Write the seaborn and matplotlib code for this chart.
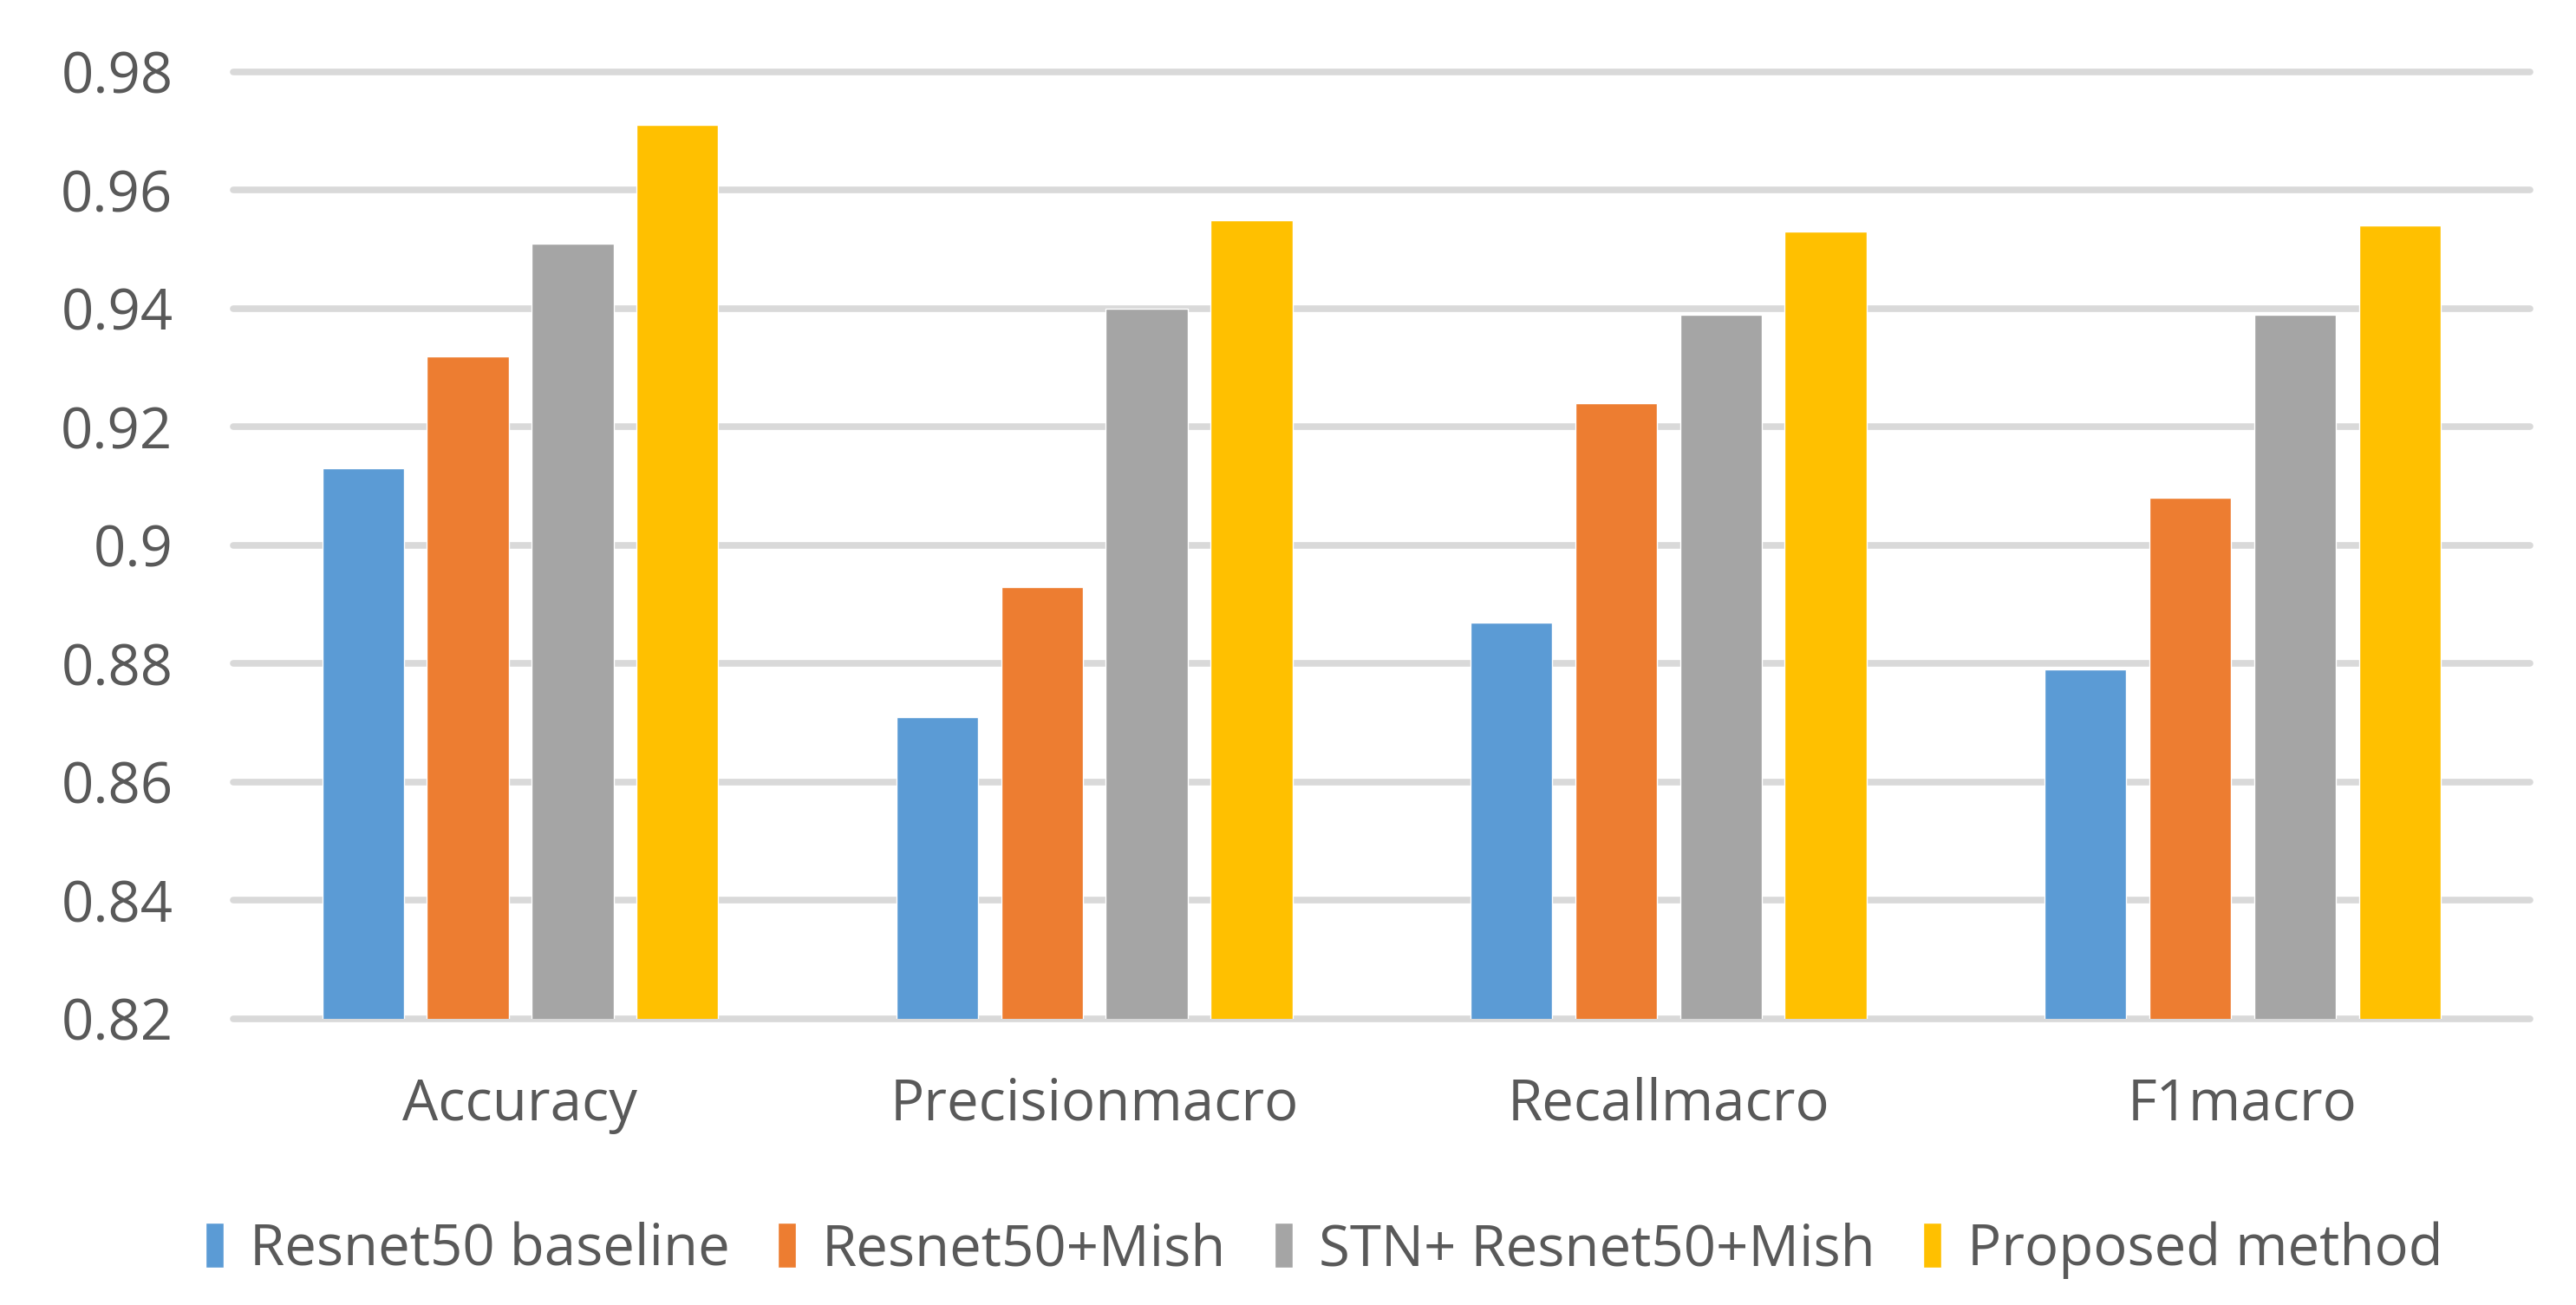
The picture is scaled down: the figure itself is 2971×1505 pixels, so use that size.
import numpy as np
import pandas as pd
import matplotlib
matplotlib.use("Agg")
import matplotlib.pyplot as plt
import seaborn as sns

metrics = ["Accuracy", "Precisionmacro", "Recallmacro", "F1macro"]
methods = ["Resnet50 baseline", "Resnet50+Mish", "STN+ Resnet50+Mish", "Proposed method"]
baseline = [0.913, 0.871, 0.887, 0.879]
mish = [0.932, 0.893, 0.924, 0.908]
stn_mish = [0.951, 0.940, 0.939, 0.939]
proposed = [0.971, 0.955, 0.953, 0.954]
colors = ["#5B9BD5", "#ED7D31", "#A5A5A5", "#FFC000"]
yticks = [0.82, 0.84, 0.86, 0.88, 0.90, 0.92, 0.94, 0.96, 0.98]


def main():
    sns.set_style("white")
    plt.rcParams["font.family"] = ["Open Sans", "DejaVu Sans"]

    rows = []
    for name, vals in zip(methods, [baseline, mish, stn_mish, proposed]):
        for m, v in zip(metrics, vals):
            rows.append({"metric": m, "method": name, "value": v})
    df = pd.DataFrame(rows)

    fig = plt.figure(figsize=(29.71, 15.05), dpi=100)
    ax = fig.add_axes([0.0905, 0.2193, 0.8915, 0.7256])

    sns.barplot(data=df, x="metric", y="value", hue="method", order=metrics,
                hue_order=methods, palette=colors, width=0.73, gap=0.22,
                saturation=1, ax=ax, zorder=3)

    ax.set_ylim(0.82, 0.98)
    ax.set_xlim(-0.5, 3.5)
    ax.set_yticks(yticks)
    ax.set_yticklabels([f"{v:g}" for v in yticks])
    ax.yaxis.grid(True, color="#D9D9D9", linewidth=5.5, zorder=0)
    for gl in ax.get_ygridlines():
        gl.set_clip_on(False)
    ax.set_axisbelow(True)
    for sp in ax.spines.values():
        sp.set_visible(False)
    ax.tick_params(axis="y", length=0, pad=50, labelsize=47, labelcolor="#595959")
    ax.tick_params(axis="x", length=0, pad=48, labelsize=47, labelcolor="#595959")
    ax.set_xlabel("")
    ax.set_ylabel("")

    handles, labels = ax.get_legend_handles_labels()
    ax.legend_.remove()
    fig.legend(handles, labels, loc="center", bbox_to_anchor=(0.514, 0.042),
               ncol=4, frameon=False, fontsize=47, handlelength=0.33,
               handleheight=0.85, handletextpad=0.45, columnspacing=0.85,
               labelcolor="#595959")

    fig.savefig("out.png", dpi=100)


if __name__ == "__main__":
    main()
